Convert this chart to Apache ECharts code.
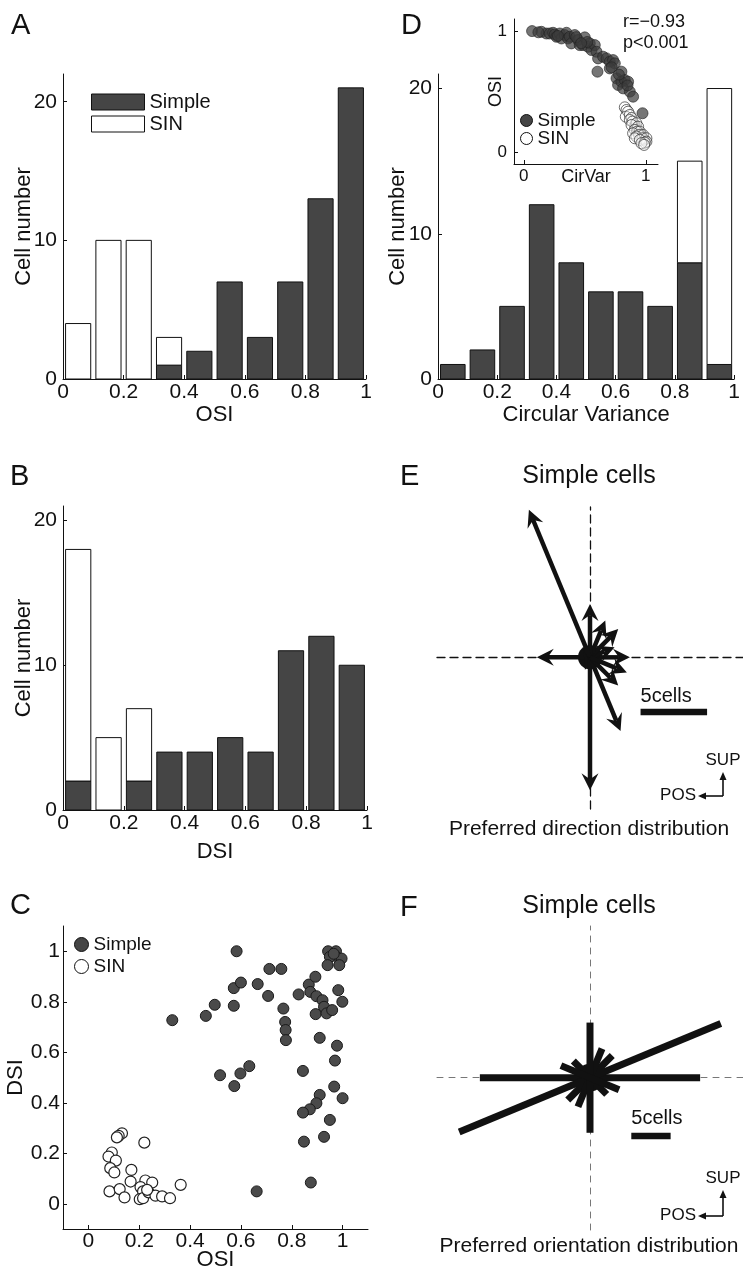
<!DOCTYPE html>
<html>
<head>
<meta charset="utf-8">
<script src="https://cdn.jsdelivr.net/npm/echarts@6/dist/echarts.min.js"></script>
<style>
  html, body { margin: 0; padding: 0; background: #fff; }
  #main { width: 743px; height: 1278px; }
</style>
</head>
<body>
<div id="main"></div>
<script>
// histogram bins (A, B, D)
const binLo = [0, 0.1, 0.2, 0.3, 0.4, 0.5, 0.6, 0.7, 0.8, 0.9];
const binHi = [0.1, 0.2, 0.3, 0.4, 0.5, 0.6, 0.7, 0.8, 0.9, 1.0];
const osiSimple = [0, 0, 0, 1, 2, 7, 3, 7, 13, 21];
const osiSIN    = [4, 10, 10, 2, 0, 0, 0, 0, 0, 0];
const dsiSimple = [2, 0, 2, 4, 4, 5, 4, 11, 12, 10];
const dsiSIN    = [16, 5, 5, 0, 0, 0, 0, 0, 0, 0];
const cvSimple  = [1, 2, 5, 12, 8, 6, 6, 5, 8, 1];
const cvSIN     = [0, 0, 0, 0, 0, 0, 0, 0, 7, 19];

// tick labels
const histTicks = [0, 0.2, 0.4, 0.6, 0.8, 1];
const countTicks = [0, 10, 20];
const scatTicks = [0, 0.2, 0.4, 0.6, 0.8, 1];
const insetTicks = [0, 1];

// C: DSI vs OSI
const cSimpleOSI = [0.583, 0.33, 0.462, 0.497, 0.572, 0.60, 0.572, 0.666, 0.712, 0.759, 0.707, 0.767, 0.774, 0.776, 0.777, 0.827, 0.867, 0.893, 0.873, 0.897, 0.921, 0.894, 0.927, 0.937, 0.959, 0.943, 0.974, 0.97, 0.95, 0.996, 0.941, 0.987, 0.983, 0.999, 0.91, 0.978, 0.97, 0.844, 0.967, 1.0, 0.91, 0.897, 0.871, 0.844, 0.95, 0.927, 0.848, 0.875, 0.662, 0.518, 0.574, 0.598, 0.633, 0.965];
const cSimpleDSI = [1.0, 0.727, 0.744, 0.788, 0.854, 0.876, 0.784, 0.87, 0.93, 0.93, 0.823, 0.773, 0.72, 0.688, 0.648, 0.829, 0.868, 0.899, 0.839, 0.822, 0.806, 0.751, 0.78, 0.754, 0.767, 1.0, 1.0, 0.982, 0.978, 0.971, 0.945, 0.945, 0.846, 0.8, 0.657, 0.626, 0.567, 0.526, 0.464, 0.418, 0.431, 0.398, 0.374, 0.361, 0.332, 0.265, 0.246, 0.084, 0.049, 0.509, 0.466, 0.516, 0.545, 0.99];
const cSinOSI = [0.132, 0.119, 0.112, 0.22, 0.092, 0.079, 0.108, 0.086, 0.102, 0.169, 0.166, 0.083, 0.123, 0.142, 0.224, 0.251, 0.205, 0.215, 0.202, 0.215, 0.237, 0.264, 0.29, 0.321, 0.363, 0.231];
const cSinDSI = [0.279, 0.269, 0.263, 0.242, 0.203, 0.187, 0.171, 0.141, 0.124, 0.134, 0.088, 0.049, 0.058, 0.025, 0.092, 0.084, 0.066, 0.049, 0.018, 0.022, 0.045, 0.032, 0.029, 0.022, 0.075, 0.055];

// D inset: OSI vs CirVar
const dSimpleCV = [0.068, 0.145, 0.186, 0.213, 0.24, 0.254, 0.268, 0.295, 0.309, 0.336, 0.35, 0.363, 0.377, 0.39, 0.418, 0.445, 0.459, 0.486, 0.5, 0.527, 0.541, 0.555, 0.582, 0.596, 0.609, 0.65, 0.678, 0.705, 0.732, 0.746, 0.604, 0.705, 0.76, 0.773, 0.8, 0.8, 0.828, 0.855, 0.814, 0.869, 0.896, 0.973, 0.91, 0.937, 0.964, 0.992, 0.12, 0.28, 0.43, 0.52, 0.47, 0.72, 0.78, 0.85];
const dSimpleOSI = [1.0, 0.994, 0.98, 0.98, 0.986, 0.972, 0.953, 0.98, 0.939, 0.967, 0.986, 0.939, 0.953, 0.898, 0.967, 0.926, 0.884, 0.884, 0.948, 0.87, 0.898, 0.843, 0.884, 0.829, 0.774, 0.788, 0.774, 0.747, 0.76, 0.733, 0.664, 0.691, 0.609, 0.554, 0.664, 0.581, 0.595, 0.581, 0.526, 0.499, 0.457, 0.32, 0.223, 0.168, 0.14, 0.099, 0.99, 0.96, 0.95, 0.91, 0.90, 0.70, 0.64, 0.55];
const dSinCV = [0.828, 0.842, 0.855, 0.836, 0.869, 0.883, 0.869, 0.891, 0.923, 0.883, 0.937, 0.91, 0.929, 0.951, 0.896, 0.945, 0.978, 0.923, 0.973, 1.005, 0.91, 0.951, 1.005, 0.992, 0.964, 0.986];
const dSinOSI = [0.369, 0.347, 0.333, 0.292, 0.306, 0.281, 0.264, 0.251, 0.237, 0.223, 0.209, 0.182, 0.168, 0.168, 0.154, 0.14, 0.14, 0.127, 0.113, 0.113, 0.113, 0.099, 0.085, 0.077, 0.072, 0.058];

// E: preferred direction (deg, cells)
const dirAngles = [0, 22.5, 45, 67.5, 90, 112.5, 135, 157.5, 180, 202.5, 225, 247.5, 270, 292.5, 315, 337.5];
const dirCounts = [3, 2, 3, 3, 4, 12, 0, 0, 4, 0, 0, 1, 10, 6, 3, 3];
// F: preferred orientation (deg, cells)
const oriAngles = [0, 22.5, 45, 67.5, 90, 112.5, 135, 157.5];
const oriCounts = [14, 18, 4, 4, 7, 0, 3, 4];
const scaleCells = 5;

const FONT = '"Liberation Sans", Arial, sans-serif';
const INK = '#111';
const DARK = '#454545';

const myChart = echarts.init(document.getElementById('main'));

function zip(a, b) { return a.map((v, i) => [v, b[i]]); }

function histData(simple, sin) {
  return {
    simple: simple.map((v, i) => [binLo[i], binHi[i], 0, v]),
    sin: sin.map((v, i) => [binLo[i], binHi[i], simple[i], simple[i] + v])
  };
}

function histBar(fill) {
  return function (params, api) {
    if (api.value(3) <= api.value(2)) return null;
    const p0 = api.coord([api.value(0), api.value(2)]);
    const p1 = api.coord([api.value(1), api.value(3)]);
    const w = (p1[0] - p0[0]) * 0.83;
    const cx = (p0[0] + p1[0]) / 2;
    return {
      type: 'rect',
      shape: { x: cx - w / 2, y: p1[1], width: w, height: p0[1] - p1[1] },
      style: { fill: fill, stroke: INK, lineWidth: 1 }
    };
  };
}

function histSeries(gi, simple, sin) {
  const d = histData(simple, sin);
  return [
    { type: 'custom', name: 'Simple', xAxisIndex: gi, yAxisIndex: gi, data: d.simple,
      encode: { x: [0, 1], y: [2, 3] }, renderItem: histBar(DARK),
      itemStyle: { color: DARK, borderColor: INK, borderWidth: 1 } },
    { type: 'custom', name: 'SIN', xAxisIndex: gi, yAxisIndex: gi, data: d.sin,
      encode: { x: [0, 1], y: [2, 3] }, renderItem: histBar('#fff'),
      itemStyle: { color: '#fff', borderColor: INK, borderWidth: 1 } }
  ];
}

function valAxis(gi, o) {
  return Object.assign({
    gridIndex: gi, type: 'value', nameLocation: 'middle', nameMoveOverlap: false,
    nameTextStyle: { fontSize: 22, color: INK, fontFamily: FONT },
    axisLine: { onZero: false, lineStyle: { color: INK, width: 1 } },
    axisTick: { inside: true, length: 4, lineStyle: { color: INK } },
    axisLabel: { fontSize: 21, color: INK, fontFamily: FONT },
    splitLine: { show: false }
  }, o);
}

function withTicks(ax, ticks, margin, size) {
  ax.axisTick.customValues = ticks;
  ax.axisLabel.customValues = ticks;
  ax.axisLabel.margin = margin;
  if (size) ax.axisLabel.fontSize = size;
  return ax;
}

// E arrows
function arrowItem(params, api) {
  const c = api.coord([0, 0]);
  const kids = [];
  if (params.dataIndex === 0) {
    kids.push({ type: 'circle', shape: { cx: c[0], cy: c[1], r: 12 }, style: { fill: INK } });
  }
  const n = api.value(1);
  if (n > 0) {
    const a = api.value(0) * Math.PI / 180;
    const t = api.coord([n * Math.cos(a), n * Math.sin(a)]);
    const dx = t[0] - c[0], dy = t[1] - c[1], len = Math.hypot(dx, dy);
    const ux = dx / len, uy = dy / len, px = -uy, py = ux;
    const L = 17, W = 8.5, N = 11;
    const bx = t[0] - ux * L, by = t[1] - uy * L;
    const nx = t[0] - ux * N, ny = t[1] - uy * N;
    kids.push({ type: 'line', shape: { x1: c[0], y1: c[1], x2: nx, y2: ny }, style: { stroke: INK, lineWidth: 4.5 } });
    kids.push({ type: 'polygon', shape: { points: [[t[0], t[1]], [bx + px * W, by + py * W], [nx, ny], [bx - px * W, by - py * W]] }, style: { fill: INK } });
  }
  return { type: 'group', children: kids };
}

// F axial bars
function axialItem(params, api) {
  const c = api.coord([0, 0]);
  const kids = [];
  if (params.dataIndex === 0) {
    kids.push({ type: 'circle', shape: { cx: c[0], cy: c[1], r: 14 }, style: { fill: INK } });
  }
  const n = api.value(1);
  if (n > 0) {
    const a = api.value(0) * Math.PI / 180;
    const p1 = api.coord([n * Math.cos(a), n * Math.sin(a)]);
    const p2 = api.coord([-n * Math.cos(a), -n * Math.sin(a)]);
    kids.push({ type: 'line', shape: { x1: p1[0], y1: p1[1], x2: p2[0], y2: p2[1] }, style: { stroke: INK, lineWidth: 7, lineCap: 'butt' } });
  }
  return { type: 'group', children: kids };
}

function scaleBar(x0, y0, thick, textGap) {
  return function (params, api) {
    const s = api.coord([x0, y0]);
    const e = api.coord([x0 + api.value(0), y0]);
    return { type: 'group', children: [
      { type: 'rect', shape: { x: s[0], y: s[1] - thick / 2, width: e[0] - s[0], height: thick }, style: { fill: INK } },
      { type: 'text', x: s[0], y: s[1] - textGap, style: { text: scaleCells + 'cells', fill: INK, font: '20px ' + FONT, align: 'left', verticalAlign: 'middle' } }
    ] };
  };
}

function compass(cx, cy, up, supDy) {
  const st = { stroke: INK, lineWidth: 1.6 };
  const tf = '17px ' + FONT;
  return [
    { type: 'line', shape: { x1: cx, y1: cy, x2: cx, y2: cy - up + 6 }, style: st },
    { type: 'polygon', shape: { points: [[cx, cy - up], [cx - 3.5, cy - up + 8], [cx + 3.5, cy - up + 8]] }, style: { fill: INK } },
    { type: 'line', shape: { x1: cx, y1: cy, x2: cx - 19, y2: cy }, style: st },
    { type: 'polygon', shape: { points: [[cx - 25, cy], [cx - 17, cy - 3.5], [cx - 17, cy + 3.5]] }, style: { fill: INK } },
    { type: 'text', x: cx, y: cy - supDy, style: { text: 'SUP', fill: INK, font: tf, align: 'center', verticalAlign: 'middle' } },
    { type: 'text', x: cx - 27, y: cy - 1, style: { text: 'POS', fill: INK, font: tf, align: 'right', verticalAlign: 'middle' } }
  ];
}

function label(text, x, y, size, align) {
  return { type: 'text', x: x, y: y, style: { text: text, fill: INK, font: size + 'px ' + FONT, align: align || 'left', verticalAlign: 'middle' } };
}

const grids = [
  { left: 63, top: 74, width: 303, height: 305 },   // A
  { left: 63, top: 506, width: 304, height: 304 },  // B
  { left: 63, top: 926, width: 305, height: 303 },  // C
  { left: 438, top: 74, width: 302, height: 305 },  // D
  { left: 514, top: 19, width: 144, height: 145 },  // D inset
  { left: 437, top: 507, width: 306, height: 302 }, // E
  { left: 437, top: 926, width: 306, height: 304 }  // F
];

const hidden = { show: true, axisLabel: { show: false }, axisTick: { show: false }, splitLine: { show: false } };
const insetName = { fontSize: 18, color: INK, fontFamily: FONT };

const xAxes = [
  withTicks(valAxis(0, { min: 0, max: 1, name: 'OSI', nameGap: 25 }), histTicks, 3),
  withTicks(valAxis(1, { min: 0, max: 1, name: 'DSI', nameGap: 31 }), histTicks, 3),
  withTicks(valAxis(2, { min: -0.1, max: 1.1, name: 'OSI', nameGap: 20 }), scatTicks, 2),
  withTicks(valAxis(3, { min: 0, max: 1, name: 'Circular Variance', nameGap: 25 }), histTicks, 3),
  withTicks(valAxis(4, { min: -0.08, max: 1.1, name: 'CirVar', nameGap: 4, nameTextStyle: insetName }), insetTicks, 4, 17),
  Object.assign({ gridIndex: 5, type: 'value', min: -11.5, max: 11.5,
    axisLine: { onZero: true, lineStyle: { color: INK, width: 1.3, type: [8, 5] } } }, hidden),
  Object.assign({ gridIndex: 6, type: 'value', min: -19.45, max: 19.45,
    axisLine: { onZero: true, lineStyle: { color: '#777', width: 1, type: [6, 6] } } }, hidden)
];

const yAxes = [
  withTicks(valAxis(0, { min: 0, max: 22, name: 'Cell number', nameGap: 28 }), countTicks, 6),
  withTicks(valAxis(1, { min: 0, max: 21, name: 'Cell number', nameGap: 28 }), countTicks, 6),
  withTicks(valAxis(2, { min: -0.1, max: 1.1, name: 'DSI', nameGap: 36 }), scatTicks, 3),
  withTicks(valAxis(3, { min: 0, max: 21, name: 'Cell number', nameGap: 29 }), countTicks, 6),
  withTicks(valAxis(4, { min: -0.1, max: 1.1, name: 'OSI', nameGap: 9, nameTextStyle: insetName }), insetTicks, 7, 17),
  Object.assign({ gridIndex: 5, type: 'value', min: -11.4, max: 11.3,
    axisLine: { onZero: true, lineStyle: { color: INK, width: 1.3, type: [8, 5] } } }, hidden),
  Object.assign({ gridIndex: 6, type: 'value', min: -19.35, max: 19.27,
    axisLine: { onZero: true, lineStyle: { color: '#777', width: 1, type: [6, 6] } } }, hidden)
];

const legendBase = { orient: 'vertical', padding: 0, selectedMode: false, data: ['Simple', 'SIN'],
  itemStyle: { borderColor: INK, borderWidth: 1 } };

const option = {
  animation: false,
  backgroundColor: '#fff',
  textStyle: { fontFamily: FONT },
  grid: grids,
  xAxis: xAxes,
  yAxis: yAxes,
  legend: [
    Object.assign({}, legendBase, { left: 91, top: 92, icon: 'rect', itemWidth: 53, itemHeight: 16, itemGap: 2,
      textStyle: { fontSize: 20, color: INK, fontFamily: FONT } }),
    Object.assign({}, legendBase, { left: 74, top: 935, icon: 'circle', itemWidth: 14, itemHeight: 14, itemGap: 3,
      textStyle: { fontSize: 19, color: INK, fontFamily: FONT } }),
    Object.assign({}, legendBase, { left: 520, top: 111, icon: 'circle', itemWidth: 12, itemHeight: 12, itemGap: -1,
      textStyle: { fontSize: 19, color: INK, fontFamily: FONT } })
  ],
  series: [].concat(
    histSeries(0, osiSimple, osiSIN),
    histSeries(1, dsiSimple, dsiSIN),
    histSeries(3, cvSimple, cvSIN),
    [
      { type: 'scatter', name: 'Simple', xAxisIndex: 2, yAxisIndex: 2, data: zip(cSimpleOSI, cSimpleDSI),
        symbolSize: 11, itemStyle: { color: '#4a4a4a', borderColor: '#1a1a1a', borderWidth: 1, opacity: 1 } },
      { type: 'scatter', name: 'SIN', xAxisIndex: 2, yAxisIndex: 2, data: zip(cSinOSI, cSinDSI),
        symbolSize: 11, itemStyle: { color: '#fff', borderColor: '#222', borderWidth: 1.2, opacity: 1 } },
      { type: 'scatter', name: 'Simple', xAxisIndex: 4, yAxisIndex: 4, data: zip(dSimpleCV, dSimpleOSI),
        symbolSize: 11, itemStyle: { color: 'rgba(60,60,60,0.88)', borderColor: '#222', borderWidth: 0.8 } },
      { type: 'scatter', name: 'SIN', xAxisIndex: 4, yAxisIndex: 4, data: zip(dSinCV, dSinOSI),
        symbolSize: 11, itemStyle: { color: 'rgba(255,255,255,0.5)', borderColor: '#333', borderWidth: 0.9 } },
      { type: 'custom', name: 'direction', xAxisIndex: 5, yAxisIndex: 5, z: 5,
        data: zip(dirAngles, dirCounts), renderItem: arrowItem },
      { type: 'custom', name: 'scaleE', xAxisIndex: 5, yAxisIndex: 5, z: 5,
        data: [[scaleCells]], renderItem: scaleBar(3.8, -4.1, 6.5, 15) },
      { type: 'custom', name: 'orientation', xAxisIndex: 6, yAxisIndex: 6, z: 5,
        data: zip(oriAngles, oriCounts), renderItem: axialItem },
      { type: 'custom', name: 'scaleF', xAxisIndex: 6, yAxisIndex: 6, z: 5,
        data: [[scaleCells]], renderItem: scaleBar(5.25, -7.4, 6.5, 17) }
    ]
  ),
  graphic: { elements: [].concat(
    [
      label('A', 11, 26, 29), label('B', 10, 477, 29), label('C', 10, 906, 29),
      label('D', 401, 26, 29), label('E', 400, 477, 29), label('F', 400, 908, 29),
      label('Simple cells', 589, 476, 25, 'center'),
      label('Simple cells', 589, 906, 25, 'center'),
      label('Preferred direction distribution', 589, 829, 21, 'center'),
      label('Preferred orientation distribution', 589, 1246, 21, 'center'),
      label('r=\u22120.93', 623, 22, 18), label('p<0.001', 623, 43, 18)
    ],
    compass(723, 796, 24, 36),
    compass(723, 1216, 26, 38)
  ) }
};

myChart.setOption(option);
</script>
</body>
</html>
